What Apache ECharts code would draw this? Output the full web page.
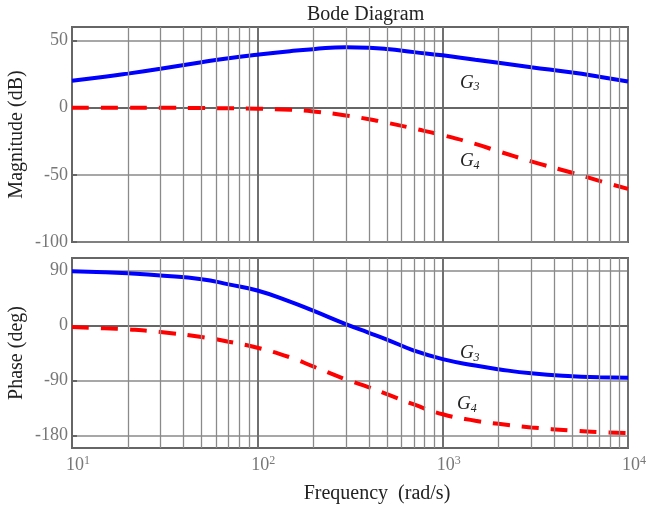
<!DOCTYPE html>
<html>
<head>
<meta charset="utf-8">
<script src="https://cdn.jsdelivr.net/npm/echarts@6/dist/echarts.min.js"></script>
<style>html,body{margin:0;padding:0;background:#fff}#c{width:649px;height:511px}</style>
</head>
<body>
<div id="c"></div>
<script>
// ---- data ----
const freq = [10, 15, 20, 30, 50, 70, 100, 150, 200, 300, 400, 500, 700, 1000, 1500, 2000, 3000, 5000, 7000, 10000];
const g3Mag = [20, 22.9, 25.3, 29, 33.8, 36.8, 39.4, 42, 43.5, 45, 44.6, 43.6, 41.3, 38.9, 35.6, 33.4, 30.1, 26.1, 23, 19.5];
const g4Mag = [0, 0, 0, -0.1, -0.3, -0.5, -0.8, -1.6, -2.8, -5.8, -8.6, -11.2, -15.6, -20.5, -27, -32.5, -40, -48.5, -54.5, -60.5];
const g3Phase = [88.4, 86.8, 85, 81.5, 75.5, 67, 57, 39, 24, 2, -12, -23, -41, -55, -65.5, -71.5, -78.2, -83, -84.5, -85.5];
const g4Phase = [-2.7, -4.8, -6.5, -10.8, -19, -26.5, -36.4, -52, -67, -88, -101, -112, -129, -145, -155.5, -160.5, -166.4, -171.5, -174, -175.7];
const magTicks = [-100, -50, 0, 50];
const phaseTicks = [-180, -90, 0, 90];
const minorFreqs = [20, 30, 40, 50, 60, 70, 80, 90, 200, 300, 400, 500, 600, 700, 800, 900, 2000, 3000, 4000, 5000, 6000, 7000, 8000, 9000];
const titleText = 'Bode Diagram';
const magName = 'Magnitude (dB)';
const phaseName = 'Phase (deg)';
const freqName = 'Frequency  (rad/s)';

const SERIF = '"Liberation Serif", "DejaVu Serif", serif';
const pairs = (ys) => freq.map((f, i) => [f, ys[i]]);

const chart = echarts.init(document.getElementById('c'), null, {renderer: 'canvas'});

function xAxisCfg(gridIndex, showLabels) {
  return {
    type: 'log', logBase: 10, min: 10, max: 10000, gridIndex,
    axisLine: {show: true, lineStyle: {color: '#666', width: 2}},
    axisTick: {show: false},
    splitLine: {show: true, lineStyle: {color: '#707070', width: 2}},
    minorTick: {show: false}, minorSplitLine: {show: false},
    name: showLabels ? freqName : '',
    nameLocation: 'middle', nameGap: 36,
    nameTextStyle: {fontFamily: SERIF, fontSize: 20, color: '#222', padding: [0, 0, 0, 54]},
    axisLabel: {
      show: showLabels, margin: 7, color: '#777', fontFamily: SERIF, fontSize: 18,
      padding: [0, 0, 0, 12],
      formatter: (v) => '10{s|' + Math.round(Math.log10(v)) + '}',
      rich: {s: {fontSize: 12, color: '#777', fontFamily: SERIF, verticalAlign: 'top', padding: [0, 0, 9, 0]}}
    }
  };
}

function yAxisCfg(gridIndex, min, max, ticks, name) {
  return {
    type: 'value', gridIndex, min, max,
    name, nameLocation: 'middle', nameGap: 45, nameRotate: 90, nameMoveOverlap: false,
    nameTextStyle: {fontFamily: SERIF, fontSize: 20, color: '#222'},
    axisLine: {show: true, lineStyle: {color: '#666', width: 2}},
    axisTick: {show: true, inside: true, length: 5, customValues: ticks, lineStyle: {color: '#666', width: 2}},
    axisLabel: {customValues: ticks, margin: 4, color: '#777', fontFamily: SERIF, fontSize: 18},
    splitLine: {show: true, lineStyle: {color: '#8a8a8a', width: 1.5}}
  };
}

function minorLines(xi, yi) {
  return {
    type: 'line', xAxisIndex: xi, yAxisIndex: yi, data: [], z: 1, silent: true,
    markLine: {
      silent: true, symbol: ['none', 'none'], animation: false,
      label: {show: false},
      lineStyle: {color: '#8a8a8a', width: 1.3, type: 'solid'},
      emphasis: {disabled: true},
      data: minorFreqs.map(f => ({xAxis: f}))
    }
  };
}

function gLabel(coord, idx) {
  return {
    symbol: 'rect', symbolSize: 1, itemStyle: {color: 'rgba(0,0,0,0)'}, animation: false,
    label: {
      show: true, position: 'inside',
      formatter: '{g|G}{s|' + idx + '}',
      rich: {
        g: {fontFamily: SERIF, fontStyle: 'italic', fontSize: 19, color: '#222'},
        s: {fontFamily: SERIF, fontStyle: 'italic', fontSize: 12, color: '#222', verticalAlign: 'bottom', padding: [9, 0, 0, 0]}
      }
    },
    data: [{coord}]
  };
}

function curve(xi, yi, ys, color, dashed, labelCoord, idx) {
  return {
    type: 'line', xAxisIndex: xi, yAxisIndex: yi, z: 3,
    data: pairs(ys), showSymbol: false, smooth: 0.5,
    lineStyle: {color, width: 4, type: dashed ? [17, 12] : 'solid', cap: 'butt'},
    markPoint: gLabel(labelCoord, idx)
  };
}

chart.setOption({
  backgroundColor: '#fff',
  animation: false,
  title: {
    text: titleText, left: 302, top: 0,
    textStyle: {fontFamily: SERIF, fontSize: 20, fontWeight: 'normal', color: '#222'}
  },
  grid: [
    {left: 72, top: 27, width: 556, height: 215, show: true, borderColor: '#666', borderWidth: 2, backgroundColor: 'transparent', containLabel: false, outerBoundsMode: 'none'},
    {left: 72, top: 258, width: 556, height: 190, show: true, borderColor: '#666', borderWidth: 2, backgroundColor: 'transparent', containLabel: false, outerBoundsMode: 'none'}
  ],
  xAxis: [xAxisCfg(0, false), xAxisCfg(1, true)],
  yAxis: [yAxisCfg(0, -100, 60, magTicks, magName), yAxisCfg(1, -200, 110, phaseTicks, phaseName)],
  series: [
    minorLines(0, 0),
    minorLines(1, 1),
    curve(0, 0, g3Mag, '#0000ff', false, [1400, 18.5], 3),
    curve(0, 0, g4Mag, '#ff0000', true, [1400, -40], 4),
    curve(1, 1, g3Phase, '#0000ff', false, [1400, -45.5], 3),
    curve(1, 1, g4Phase, '#ff0000', true, [1350, -128.5], 4)
  ]
});
</script>
</body>
</html>
